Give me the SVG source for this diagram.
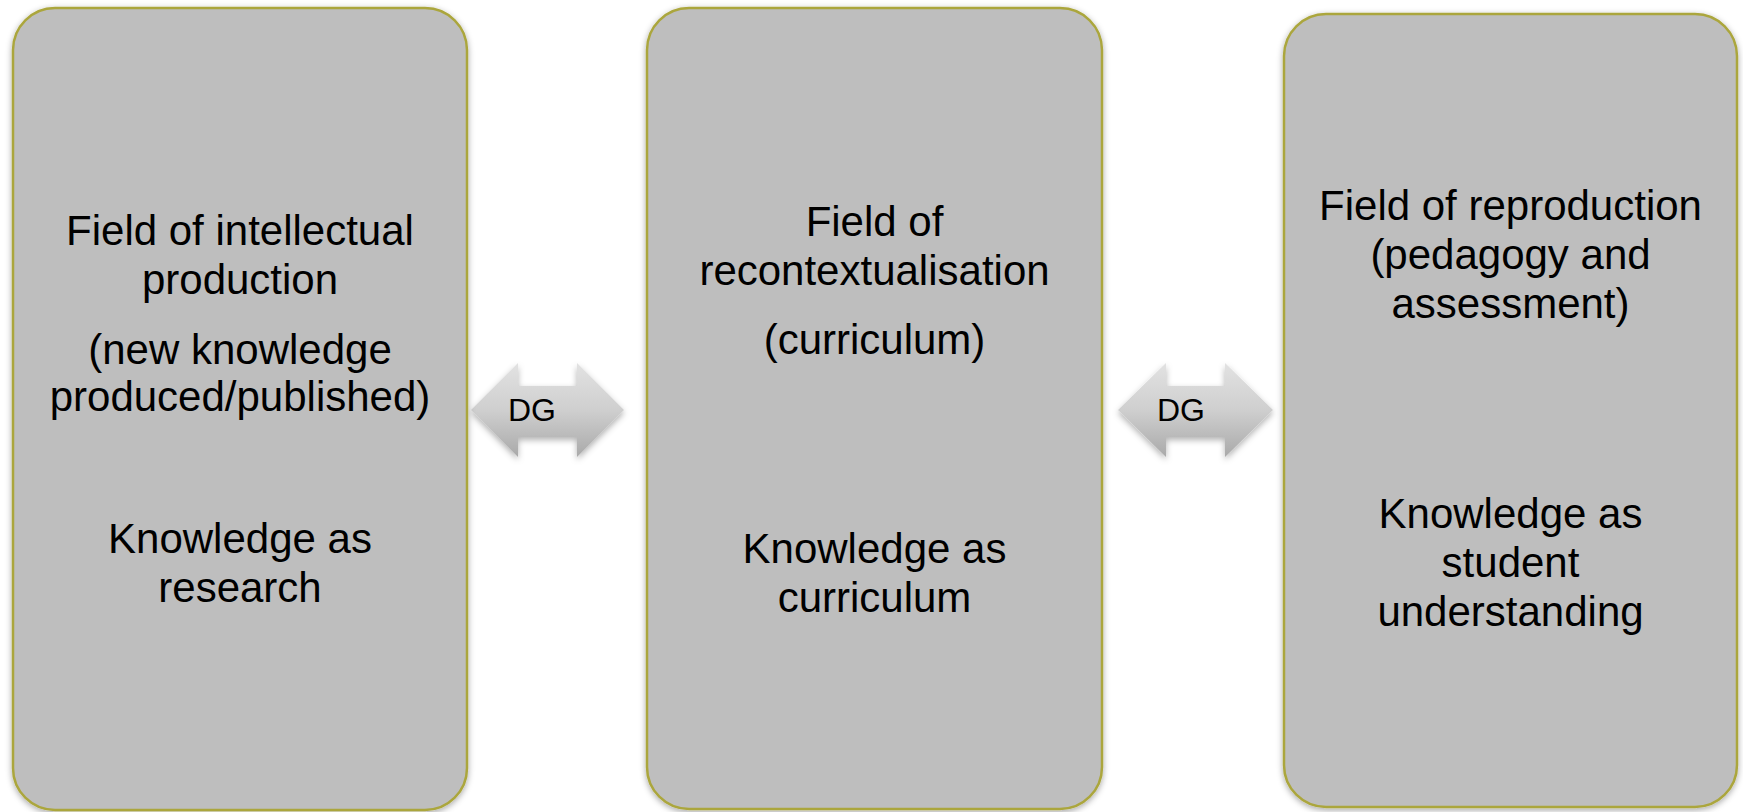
<svg xmlns="http://www.w3.org/2000/svg" width="1743" height="812" viewBox="0 0 1743 812">
  <defs>
    <filter id="shadow" x="-10%" y="-10%" width="120%" height="120%">
      <feDropShadow dx="0" dy="2" stdDeviation="3" flood-color="#000" flood-opacity="0.35"/>
    </filter>
    <filter id="ashadow" x="-20%" y="-20%" width="140%" height="150%">
      <feDropShadow dx="0" dy="3" stdDeviation="3" flood-color="#000" flood-opacity="0.3"/>
    </filter>
    <linearGradient id="agrad" x1="0" y1="0" x2="0" y2="1">
      <stop offset="0" stop-color="#e2e2e2"/>
      <stop offset="0.5" stop-color="#cfcfcf"/>
      <stop offset="1" stop-color="#a9a9a9"/>
    </linearGradient>
    <style>
      .box { fill: #bebebe; stroke: #aba63c; stroke-width: 2.5; filter: url(#shadow); }
      .t { font-family: "Liberation Sans", Arial, sans-serif; font-size: 42px; fill: #000; text-anchor: middle; }
      .dg { font-family: "Liberation Sans", Arial, sans-serif; font-size: 32px; fill: #000; text-anchor: middle; }
      .arrow { fill: url(#agrad); filter: url(#ashadow); }
    </style>
  </defs>
  <rect width="1743" height="812" fill="#ffffff"/>

  <g id="connectors">
    <g id="dg1">
      <polygon class="arrow" points="471,410 518,363 518,386 577,386 577,363 624,410 577,457 577,437 518,437 518,457"/>
      <text class="dg" x="532" y="421">DG</text>
    </g>
    <g id="dg2">
      <polygon class="arrow" points="1118,410 1166,363 1166,386 1225,386 1225,363 1273,410 1225,457 1225,437 1166,437 1166,457"/>
      <text class="dg" x="1181" y="421">DG</text>
    </g>
  </g>

  <g id="node-production">
    <rect class="box" x="13" y="8" width="454" height="802" rx="42" ry="42"/>
    <text class="t" x="240" y="245">Field of intellectual</text>
    <text class="t" x="240" y="294">production</text>
    <text class="t" x="240" y="364">(new knowledge</text>
    <text class="t" x="240" y="411">produced/published)</text>
    <text class="t" x="240" y="553">Knowledge as</text>
    <text class="t" x="240" y="602">research</text>
  </g>

  <g id="node-recontextualisation">
    <rect class="box" x="647" y="8" width="455" height="801" rx="42" ry="42"/>
    <text class="t" x="874.5" y="236">Field of</text>
    <text class="t" x="874.5" y="285">recontextualisation</text>
    <text class="t" x="874.5" y="354">(curriculum)</text>
    <text class="t" x="874.5" y="563">Knowledge as</text>
    <text class="t" x="874.5" y="612">curriculum</text>
  </g>

  <g id="node-reproduction">
    <rect class="box" x="1284" y="14" width="453" height="793" rx="42" ry="42"/>
    <text class="t" x="1510.5" y="220">Field of reproduction</text>
    <text class="t" x="1510.5" y="269">(pedagogy and</text>
    <text class="t" x="1510.5" y="318">assessment)</text>
    <text class="t" x="1510.5" y="528">Knowledge as</text>
    <text class="t" x="1510.5" y="577">student</text>
    <text class="t" x="1510.5" y="626">understanding</text>
  </g>
</svg>
